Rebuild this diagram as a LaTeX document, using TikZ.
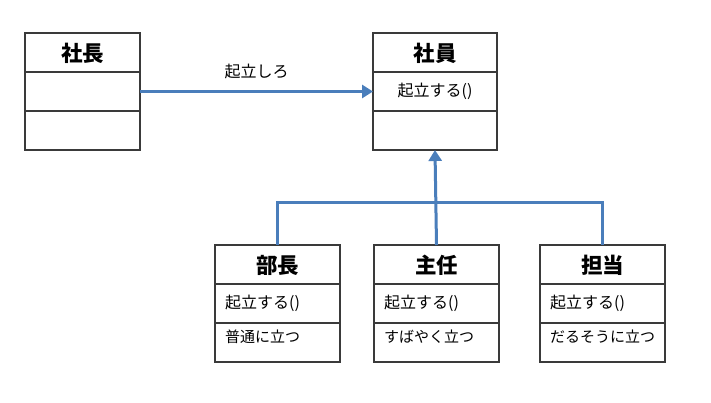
\documentclass[tikz,border=0pt]{standalone}
\usepackage{fontspec}
\setmainfont{Noto Sans CJK JP}
\usetikzlibrary{arrows.meta}
\definecolor{umlblue}{HTML}{4A7EBB}
\definecolor{boxline}{HTML}{3A3A3A}
\newcommand\umlclass[8]{% #1 name, #2 x, #3 y, #4 w, #5 title, #6 method, #7 note, #8 method anchor style
  \node[umlbox, minimum width=#4] (#1) at (#2,#3) {};
  \draw[divline] ([yshift=-39]#1.north west) -- ([yshift=-39]#1.north east);
  \draw[divline] ([yshift=-78]#1.north west) -- ([yshift=-78]#1.north east);
  \node[titletext] (#1-t) at ([yshift=-20]#1.north) {#5};
  \node[bodytext,#8] (#1-m) {#6};
  \node[notetext, anchor=west] (#1-n) at ([xshift=10,yshift=-92]#1.north west) {#7};
}
\begin{document}
\begin{tikzpicture}[x=1pt,y=-1pt,
  umlbox/.style={draw=boxline, line width=1.3pt, inner sep=0pt, outer sep=0pt, anchor=north west, minimum height=117},
  divline/.style={draw=boxline, line width=1.3pt},
  titletext/.style={font=\fontsize{21.5}{25}\selectfont\bfseries, inner sep=0pt},
  bodytext/.style={font=\fontsize{16}{19}\selectfont, inner sep=0pt},
  notetext/.style={font=\fontsize{15}{18}\selectfont, inner sep=0pt},
  conn/.style={draw=umlblue, line width=3pt},
  arrowconn/.style={conn, -{Triangle[length=11pt,width=13pt]}}]
\useasboundingbox (0,0) rectangle (711,402);
\fill[white] (0,0) rectangle (711,402);

\umlclass{shacho}{25}{33}{115}{社長}{}{}{at={([yshift=-58.5]shacho.center)}}
\umlclass{shain}{373}{33}{124}{社員}{起立する()}{}{at={([yshift=-58.5]shain.north)}}
\umlclass{bucho}{215}{245}{125}{部長}{起立する()}{普通に立つ}{anchor=west, at={([xshift=10,yshift=-58.5]bucho.north west)}}
\umlclass{shunin}{374}{245}{125}{主任}{起立する()}{すばやく立つ}{anchor=west, at={([xshift=10,yshift=-58.5]shunin.north west)}}
\umlclass{tanto}{540}{245}{125}{担当}{起立する()}{だるそうに立つ}{anchor=west, at={([xshift=10,yshift=-58.5]tanto.north west)}}

\draw[arrowconn] (shacho.east) -- node[bodytext, above=11pt] (order) {起立しろ} (shain.west);

\draw[conn] (bucho.north) -- ++(0,-43) coordinate (jl) -| (tanto.north);
\draw[arrowconn] (shunin.north) -- (shain.south);
\end{tikzpicture}
\end{document}
